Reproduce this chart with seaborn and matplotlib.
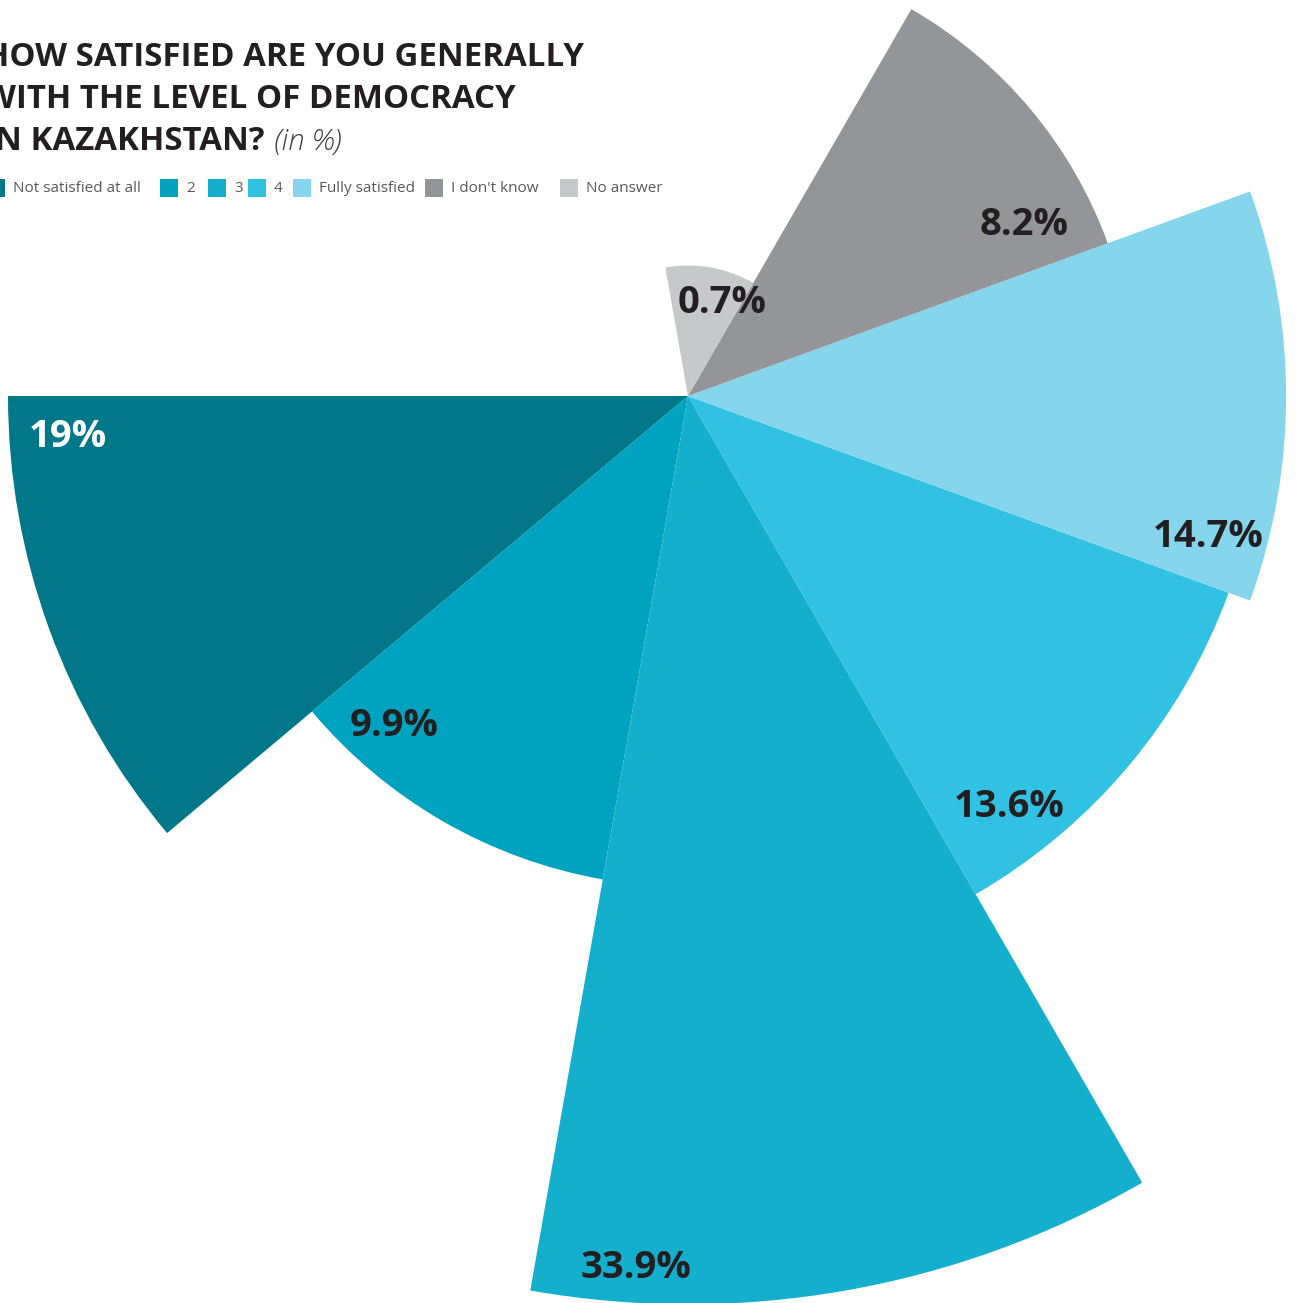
import numpy as np
import pandas as pd
import matplotlib
matplotlib.use("Agg")
import matplotlib.pyplot as plt
from matplotlib.patches import Rectangle
from matplotlib.transforms import offset_copy
import seaborn as sns

# Survey answers, shares in percent
categories = ["Not satisfied at all", "2", "3", "4", "Fully satisfied",
              "I don't know", "No answer"]
shares = [19.0, 9.9, 33.9, 13.6, 14.7, 8.2, 0.7]
value_labels = ["19%", "9.9%", "33.9%", "13.6%", "14.7%", "8.2%", "0.7%"]
colors = ["#00788A", "#00A3BF", "#13AFCD", "#31C2E3", "#85D5ED",
          "#939598", "#C7C8CA"]
label_colors = ["white", "#231F20", "#231F20", "#231F20", "#231F20",
                "#231F20", "#231F20"]

# Canvas geometry (pixels)
W, H, DPI = 1296, 1303, 100
CX, CY = 688, 396          # centre of the rose, measured from the top-left
PX_PER_ROOT = 156          # radius in pixels per sqrt(percent): area ~ share
R_AX = 1000                # half size of the polar axes box
SECTOR_DEG = 40            # every answer gets the same opening angle
START_DEG = 180            # first sector starts pointing left

# label placement: angular shift from the sector start, inset from its rim
label_shift_deg = [3.3, 7.7, 6.4, 8.2, 5.3, 7.7, 11.9]
label_inset_px = [57, 52, 40, 59, 63, 69, 27]

df = pd.DataFrame({"category": categories, "share": shares})
df["theta"] = np.deg2rad(np.arange(len(df)) * SECTOR_DEG)

sns.set_theme(style="white")
plt.rcParams["font.family"] = ["Open Sans", "DejaVu Sans"]

fig = plt.figure(figsize=(W / DPI, H / DPI), dpi=DPI)
fig.patch.set_facecolor("white")


def fx(x):
    return x / W


def fy(y):
    return 1 - y / H


ax = fig.add_axes([fx(CX - R_AX), fy(CY + R_AX), 2 * R_AX / W, 2 * R_AX / H],
                  projection="polar")
# square-root radial scale so the sector area follows the share
ax.set_rscale("function",
              functions=(lambda r: np.sqrt(np.clip(r, 0, None)),
                         lambda r: np.square(r)))

sns.barplot(data=df, x="theta", y="share", hue="category",
            hue_order=categories, palette=colors, native_scale=True,
            width=1.0, dodge=False, legend=False, errorbar=None,
            linewidth=0, saturation=1, ax=ax)

ax.set_theta_offset(np.deg2rad(START_DEG + SECTOR_DEG / 2))
ax.set_xlim(0, 2 * np.pi)
ax.set_ylim(0, (R_AX / PX_PER_ROOT) ** 2)
ax.set_axis_off()

# value labels inside each sector (nudged down to centre the digits)
label_tf = offset_copy(ax.transData, fig=fig, x=2, y=-5, units="dots")
for i, (v, lab) in enumerate(zip(shares, value_labels)):
    theta = np.deg2rad(-SECTOR_DEG / 2 + i * SECTOR_DEG + label_shift_deg[i])
    r_px = PX_PER_ROOT * np.sqrt(v) - label_inset_px[i]
    r_val = (r_px / PX_PER_ROOT) ** 2
    ax.text(theta, r_val, lab, ha="center", va="center", fontsize=27.5,
            fontweight="bold", color=label_colors[i], transform=label_tf)

# title, set flush against the left edge
title_color = "#231F20"
title_lines = ["HOW SATISFIED ARE YOU GENERALLY", "WITH THE LEVEL OF DEMOCRACY",
               "IN KAZAKHSTAN?"]
baselines = [66, 108, 150]
title_x = -16
last = None
for line, yb in zip(title_lines, baselines):
    last = fig.text(fx(title_x), fy(yb), line, ha="left", va="baseline",
                    fontsize=23.8, fontweight="bold", color=title_color)

fig.canvas.draw()
bb = last.get_window_extent()
fig.text(bb.x1 / W + fx(10), fy(baselines[-1]), "(in %)", ha="left",
         va="baseline", fontsize=21, fontstyle="italic", fontweight="light",
         color="#3A3A3C")

# legend row
square_x = [-13, 160, 208, 248, 293, 425, 560]
SQ = 18
LEG_Y = 188
for x0, c, name in zip(square_x, colors, categories):
    fig.add_artist(Rectangle((fx(x0), fy(LEG_Y + SQ / 2)), SQ / W, SQ / H,
                             transform=fig.transFigure, facecolor=c,
                             edgecolor="none"))
    fig.text(fx(x0 + SQ + 8), fy(LEG_Y), name, ha="left", va="center",
             fontsize=11, color="#58595B")

fig.savefig("out.png", dpi=DPI, facecolor="white")
